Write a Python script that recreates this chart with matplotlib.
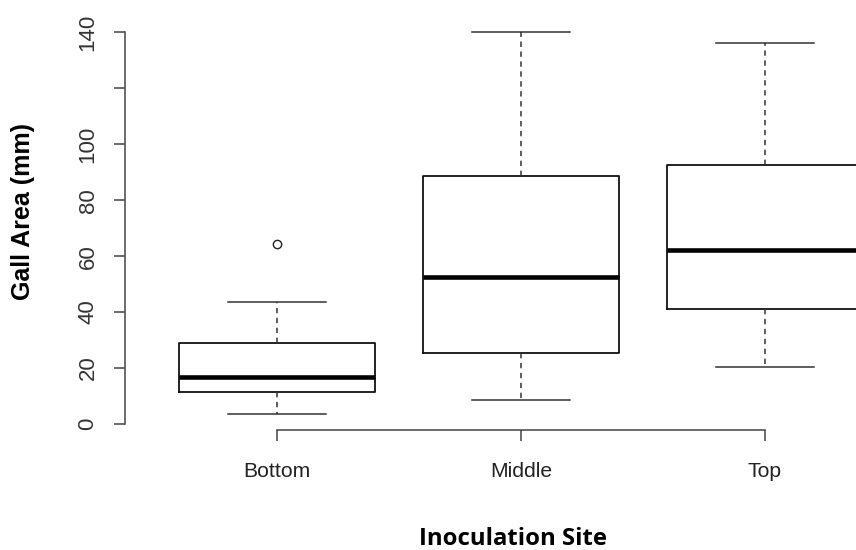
import matplotlib
matplotlib.use("Agg")
import matplotlib.pyplot as plt

categories = ["Bottom", "Middle", "Top"]
whisker_low = [3.5, 8.6, 20.4]
q1 = [11.5, 25.4, 41.1]
median = [16.9, 52.5, 62.2]
q3 = [29.1, 88.6, 92.6]
whisker_high = [43.6, 140.0, 136.2]
outliers = [[64.2], [], []]
y_ticks = [0, 20, 40, 60, 80, 100, 120, 140]
y_tick_labels = ["0", "20", "40", "60", "80", "100", "", "140"]

W, H = 856, 550
fig = plt.figure(figsize=(W / 100, H / 100), dpi=100)
ax_left, ax_right, ax_bottom_px, ax_top_px = 125, 856, 430, 20
ax = fig.add_axes([ax_left / W, (H - ax_bottom_px) / H,
                   (ax_right - ax_left) / W, (ax_bottom_px - ax_top_px) / H])

stats = []
for i, c in enumerate(categories):
    stats.append(dict(label=c, whislo=whisker_low[i], q1=q1[i], med=median[i],
                      q3=q3[i], whishi=whisker_high[i], fliers=outliers[i]))

positions = list(range(1, len(categories) + 1))
ax.bxp(stats, positions=positions, widths=0.8, capwidths=0.4,
       boxprops=dict(color="#111111", linewidth=1.3),
       medianprops=dict(color="black", linewidth=3.3, solid_capstyle="butt"),
       whiskerprops=dict(color="#333333", linewidth=1.1, linestyle=(0, (3.5, 3.0))),
       capprops=dict(color="#333333", linewidth=1.1),
       flierprops=dict(marker="o", markerfacecolor="none", markeredgecolor="#222222",
                       markersize=6, markeredgewidth=1.0),
       manage_ticks=False)

px_per_unit = 244.0
x_left = 1 + (ax_left - 277) / px_per_unit
x_right = 1 + (ax_right - 277) / px_per_unit
ax.set_xlim(x_left, x_right)
ypx = (424 - 32.3) / 140.0
ax.set_ylim((424 - ax_bottom_px) / ypx, (424 - ax_top_px) / ypx)

for s in ["top", "right"]:
    ax.spines[s].set_visible(False)
for s in ["left", "bottom"]:
    ax.spines[s].set_color("#444444")
    ax.spines[s].set_linewidth(1.1)
ax.spines["left"].set_bounds(0, 140)
ax.spines["bottom"].set_bounds(1, 3)

ax.set_xticks(positions)
ax.set_xticklabels(categories, fontsize=15.2, color="#222222", family="Liberation Sans")
ax.set_yticks(y_ticks)
ax.set_yticklabels(y_tick_labels, fontsize=16, color="#333333", family="Liberation Sans",
                   rotation=90, va="center")
ax.tick_params(axis="both", length=8, width=1.1, color="#444444")
ax.tick_params(axis="y", pad=11)
ax.tick_params(axis="x", pad=15)

ax.set_xlabel("Inoculation Site", fontsize=17.2, fontweight="bold", family="Open Sans")
ax.xaxis.set_label_coords((513 - ax_left) / (ax_right - ax_left),
                          -(545 - ax_bottom_px) / (ax_bottom_px - ax_top_px))
ax.xaxis.label.set_va("baseline")
ax.set_ylabel("Gall Area (mm)", fontsize=18, fontweight="bold", family="Liberation Sans")
ax.yaxis.set_label_coords(-(ax_left - 23) / (ax_right - ax_left),
                          (ax_bottom_px - 211) / (ax_bottom_px - ax_top_px))
ax.yaxis.label.set_va("center")

fig.savefig("out.png", dpi=100)
